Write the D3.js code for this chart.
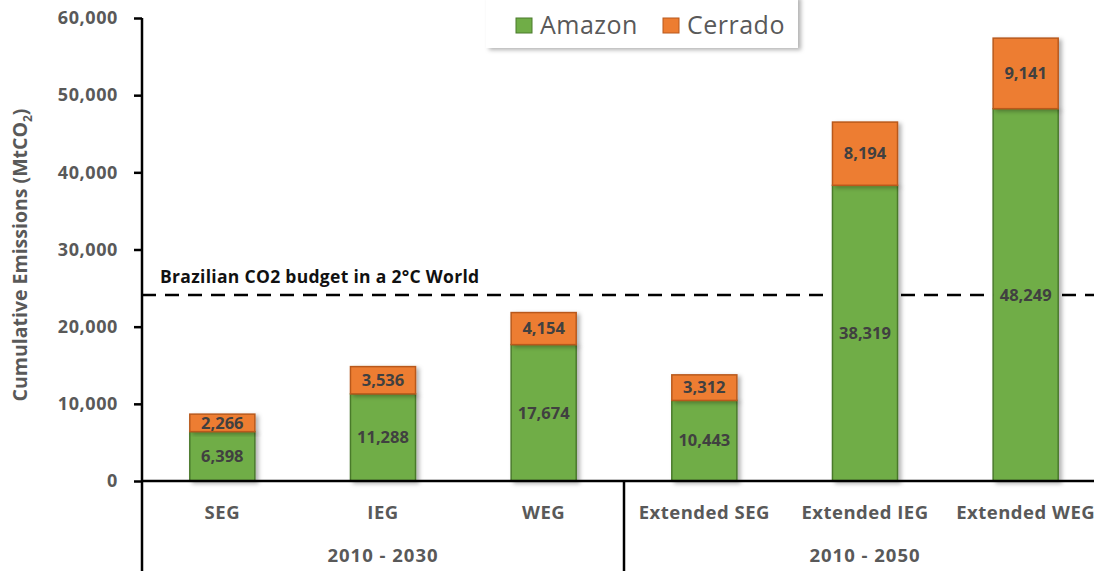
<!DOCTYPE html>
<html>
<head>
<meta charset="utf-8">
<script src="https://cdnjs.cloudflare.com/ajax/libs/d3/7.8.5/d3.min.js"></script>
<style>
  body { margin: 0; background: #fff; }
  text { font-family: "Open Sans", "Noto Sans", sans-serif; }
</style>
</head>
<body>
<svg id="chart"></svg>
<script>
var categories = ["SEG", "IEG", "WEG", "Extended SEG", "Extended IEG", "Extended WEG"];
var amazon = [6398, 11288, 17674, 10443, 38319, 48249];
var cerrado = [2266, 3536, 4154, 3312, 8194, 9141];
var groups = ["2010 - 2030", "2010 - 2050"];
var groupMembers = [["SEG", "IEG", "WEG"], ["Extended SEG", "Extended IEG", "Extended WEG"]];
var yTicks = [0, 10000, 20000, 30000, 40000, 50000, 60000];
var budget = 24100;
var budgetLabel = "Brazilian CO2 budget in a 2°C World";
var seriesNames = ["Amazon", "Cerrado"];
var colors = { Amazon: "#70ad47", Cerrado: "#ed7d31" };
var strokes = { Amazon: "#4a7a2c", Cerrado: "#b8591c" };

var dimensions = { width: 1094, height: 571, axisX: 142, baseY: 481, topY: 18, right: 1106 };

var svg = d3.select("#chart")
  .attr("width", dimensions.width)
  .attr("height", dimensions.height);

var defs = svg.append("defs");
var shadow = defs.append("filter").attr("id", "shadow")
  .attr("x", "-20%").attr("y", "-20%").attr("width", "150%").attr("height", "150%");
shadow.append("feDropShadow").attr("dx", 3).attr("dy", 2).attr("stdDeviation", 2)
  .attr("flood-color", "#000").attr("flood-opacity", 0.3);

var xScale = d3.scaleBand()
  .domain(categories)
  .range([dimensions.axisX, dimensions.right])
  .paddingInner(0.595)
  .paddingOuter(0.2975);

var yScale = d3.scaleLinear()
  .domain([0, 60000])
  .range([dimensions.baseY, dimensions.topY]);

var fmt = d3.format(",");

// budget line behind bars
svg.append("line")
  .attr("x1", dimensions.axisX).attr("x2", dimensions.width)
  .attr("y1", yScale(budget)).attr("y2", yScale(budget))
  .attr("stroke", "#000").attr("stroke-width", 2.5)
  .attr("stroke-dasharray", "14,9");

svg.append("text")
  .attr("x", 160).attr("y", yScale(budget) - 12)
  .attr("font-size", 17.5).attr("font-weight", 700).attr("fill", "#111")
  .attr("letter-spacing", 0.3)
  .text(budgetLabel);

var table = categories.map(function (c, i) {
  return { cat: c, Amazon: amazon[i], Cerrado: cerrado[i] };
});
var stacked = d3.stack().keys(seriesNames)(table);

var layers = svg.selectAll("g.layer")
  .data(stacked)
  .enter()
  .append("g")
  .attr("class", "layer");

layers.selectAll("rect")
  .data(function (s) { return s.map(function (d) { return { key: s.key, d: d }; }); })
  .enter()
  .append("rect")
  .attr("x", function (e) { return xScale(e.d.data.cat); })
  .attr("width", xScale.bandwidth())
  .attr("y", function (e) { return yScale(e.d[1]); })
  .attr("height", function (e) { return yScale(e.d[0]) - yScale(e.d[1]); })
  .attr("fill", function (e) { return colors[e.key]; })
  .attr("stroke", function (e) { return strokes[e.key]; })
  .attr("stroke-width", 1.5)
  .attr("filter", "url(#shadow)");

layers.selectAll("text")
  .data(function (s) { return s.map(function (d) { return { key: s.key, d: d }; }); })
  .enter()
  .append("text")
  .attr("x", function (e) { return xScale(e.d.data.cat) + xScale.bandwidth() / 2; })
  .attr("y", function (e) { return (yScale(e.d[0]) + yScale(e.d[1])) / 2; })
  .attr("dy", "0.35em")
  .attr("text-anchor", "middle")
  .attr("font-size", 16.5).attr("font-weight", 700).attr("fill", "#404040")
  .text(function (e) { return fmt(e.d.data[e.key]); });

// y axis
var yAxisgen = d3.axisLeft(yScale).tickValues(yTicks).tickFormat(fmt).tickSize(8).tickPadding(16);
var yAxis = svg.append("g")
  .attr("transform", "translate(" + dimensions.axisX + ",0)")
  .call(yAxisgen);
yAxis.select(".domain").remove();
yAxis.selectAll(".tick line").attr("stroke", "#000").attr("stroke-width", 2.5);
yAxis.selectAll(".tick text")
  .attr("font-size", 18).attr("font-weight", 700).attr("fill", "#595959")
  .attr("letter-spacing", 0.6)
  .style("font-family", "'Open Sans', sans-serif");

svg.append("line")
  .attr("x1", dimensions.axisX).attr("x2", dimensions.axisX)
  .attr("y1", dimensions.topY).attr("y2", dimensions.height)
  .attr("stroke", "#000").attr("stroke-width", 2.5);

// x axis
svg.append("line")
  .attr("x1", dimensions.axisX).attr("x2", dimensions.width)
  .attr("y1", dimensions.baseY).attr("y2", dimensions.baseY)
  .attr("stroke", "#000").attr("stroke-width", 2.5);

var divX = (xScale("WEG") + xScale.bandwidth() + xScale("Extended SEG")) / 2;
svg.append("line")
  .attr("x1", divX).attr("x2", divX)
  .attr("y1", dimensions.baseY).attr("y2", dimensions.height)
  .attr("stroke", "#000").attr("stroke-width", 2.5);

svg.selectAll("text.cat")
  .data(categories)
  .enter()
  .append("text")
  .attr("class", "cat")
  .attr("x", function (c) { return xScale(c) + xScale.bandwidth() / 2; })
  .attr("y", 519)
  .attr("text-anchor", "middle")
  .attr("font-size", 18.5).attr("font-weight", 700).attr("fill", "#595959")
  .attr("letter-spacing", 0.5)
  .text(function (c) { return c; });

svg.selectAll("text.group")
  .data(groups)
  .enter()
  .append("text")
  .attr("class", "group")
  .attr("x", function (g, i) {
    var m = groupMembers[i];
    return (xScale(m[0]) + xScale(m[m.length - 1]) + xScale.bandwidth()) / 2;
  })
  .attr("y", 562)
  .attr("text-anchor", "middle")
  .attr("font-size", 18.5).attr("font-weight", 700).attr("fill", "#595959")
  .attr("letter-spacing", 1)
  .text(function (g) { return g; });

// y axis title
var yTitle = svg.append("text")
  .attr("transform", "translate(27," + 255 + ") rotate(-90)")
  .attr("text-anchor", "middle")
  .attr("font-size", 19.5).attr("font-weight", 700).attr("fill", "#595959");
yTitle.append("tspan").text("Cumulative Emissions (MtCO");
yTitle.append("tspan").attr("font-size", 12).attr("dy", 5).text("2");
yTitle.append("tspan").attr("dy", -5).text(")");

// legend
var legend = svg.append("g");
legend.append("rect")
  .attr("x", 486).attr("y", -4).attr("width", 312).attr("height", 52)
  .attr("fill", "#fff").attr("filter", "url(#shadow)");
var legendX = [516, 663];
seriesNames.forEach(function (name, i) {
  legend.append("rect")
    .attr("x", legendX[i]).attr("y", 18).attr("width", 16).attr("height", 15)
    .attr("fill", colors[name]).attr("stroke", strokes[name]).attr("stroke-width", 1);
  legend.append("text")
    .attr("x", legendX[i] + 24).attr("y", 25).attr("dy", "0.35em")
    .attr("font-size", 25).attr("fill", "#595959")
    .attr("letter-spacing", 0.5)
    .text(name);
});
</script>
</body>
</html>
